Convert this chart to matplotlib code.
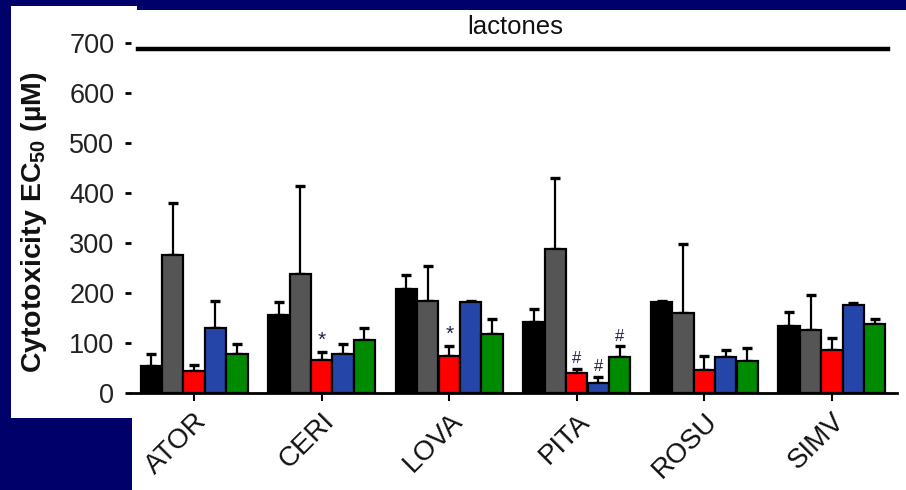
import matplotlib
matplotlib.use("Agg")
import matplotlib.pyplot as plt
from matplotlib.patches import Rectangle
from matplotlib.lines import Line2D
import numpy as np

plt.rcParams['font.family'] = ['Liberation Sans', 'DejaVu Sans']
plt.rcParams['mathtext.default'] = 'regular'

# ---- data -------------------------------------------------------------
statins = ["ATOR", "CERI", "LOVA", "PITA", "ROSU", "SIMV"]

ec50_black = [54, 156, 209, 143, 183, 135]
ec50_gray = [276, 238, 185, 289, 161, 127]
ec50_red = [44, 66, 75, 41, 46, 87]
ec50_blue = [131, 79, 183, 21, 73, 176]
ec50_green = [79, 106, 118, 73, 65, 138]

sem_black = [25, 27, 27, 25, 2, 28]
sem_gray = [105, 176, 69, 141, 138, 69]
sem_red = [12, 17, 19, 8, 28, 24]
sem_blue = [53, 20, 1, 12, 14, 5]
sem_green = [20, 25, 31, 21, 26, 10]

# significance marks: (statin index, series index, symbol)
sig_marks = [(1, 2, "*"), (2, 2, "*"), (3, 2, "#"), (3, 3, "#"), (3, 4, "#")]

y_ticks = [0, 100, 200, 300, 400, 500, 600, 700]

# ---- styling ----------------------------------------------------------
series_vals = [ec50_black, ec50_gray, ec50_red, ec50_blue, ec50_green]
series_err = [sem_black, sem_gray, sem_red, sem_blue, sem_green]
colors = ["#000000", "#555555", "#ff0000", "#2546a8", "#008a00"]
navy = "#00006a"

W, H = 906, 490
fig = plt.figure(figsize=(W / 100, H / 100), dpi=100)
fig.patch.set_facecolor(navy)

# white slide panels
fig.add_artist(Rectangle((11 / W, 72 / H), 126 / W, 412 / H,
                         transform=fig.transFigure, facecolor="white",
                         edgecolor="none", zorder=0))
fig.add_artist(Rectangle((132 / W, 0), (W - 132) / W, 480 / H,
                         transform=fig.transFigure, facecolor="white",
                         edgecolor="none", zorder=0))

ax_left, ax_right = 131, 897
ax_bottom, ax_top = 393, 43
ax = fig.add_axes([ax_left / W, 1 - ax_bottom / H,
                   (ax_right - ax_left) / W, (ax_bottom - ax_top) / H])
ax.set_facecolor("none")

x = np.arange(len(statins))
bw = 0.167
offsets = (np.arange(5) - 2) * bw * 1.005

for k in range(5):
    xs = x + offsets[k]
    ax.bar(xs, series_vals[k], width=bw, color=colors[k], edgecolor="black",
           linewidth=1.6, zorder=3)
    ax.errorbar(xs, series_vals[k],
                yerr=[np.zeros(len(statins)), series_err[k]],
                fmt="none", ecolor="black", elinewidth=1.6, capsize=3.8,
                capthick=2.4, zorder=2)

for gi, si, sym in sig_marks:
    top = series_vals[si][gi] + series_err[si][gi]
    size = 15 if sym == "*" else 12
    ax.annotate(sym, (x[gi] + offsets[si], top), xytext=(0, 1.5),
                textcoords="offset points", ha="center", va="bottom",
                fontsize=size, color="#222244", zorder=4)

ax.set_xlim(-0.494, 5.51)
ax.set_ylim(0, 700)

for s in ("top", "right", "left"):
    ax.spines[s].set_visible(False)
ax.spines["bottom"].set_linewidth(2)

ax.set_yticks(y_ticks)
ax.set_yticklabels([str(v) for v in y_ticks], fontsize=19.5, color="#222222")
ax.tick_params(axis="y", length=4, width=2, pad=8, direction="out")

ax.set_xticks(x)
ax.set_xticklabels(statins, fontsize=20, rotation=45, ha="right",
                   rotation_mode="anchor", color="#111111")
ax.tick_params(axis="x", length=6, width=1.5, pad=5, direction="out")

# bracket line and heading
fig.add_artist(Line2D([138 / W, 888 / W], [1 - 49.5 / H, 1 - 49.5 / H],
                      transform=fig.transFigure, color="black", linewidth=3.2))
fig.text(515 / W, 1 - 27 / H, "lactones", ha="center", va="center",
         fontsize=18.5, color="#111111")

fig.text(34 / W, 1 - 222 / H, r"Cytotoxicity EC$_{50}$ (µM)", rotation=90,
         ha="center", va="center", fontsize=20.5, fontweight="bold",
         color="#111111")

fig.savefig("out.png", dpi=100, facecolor=fig.get_facecolor())
